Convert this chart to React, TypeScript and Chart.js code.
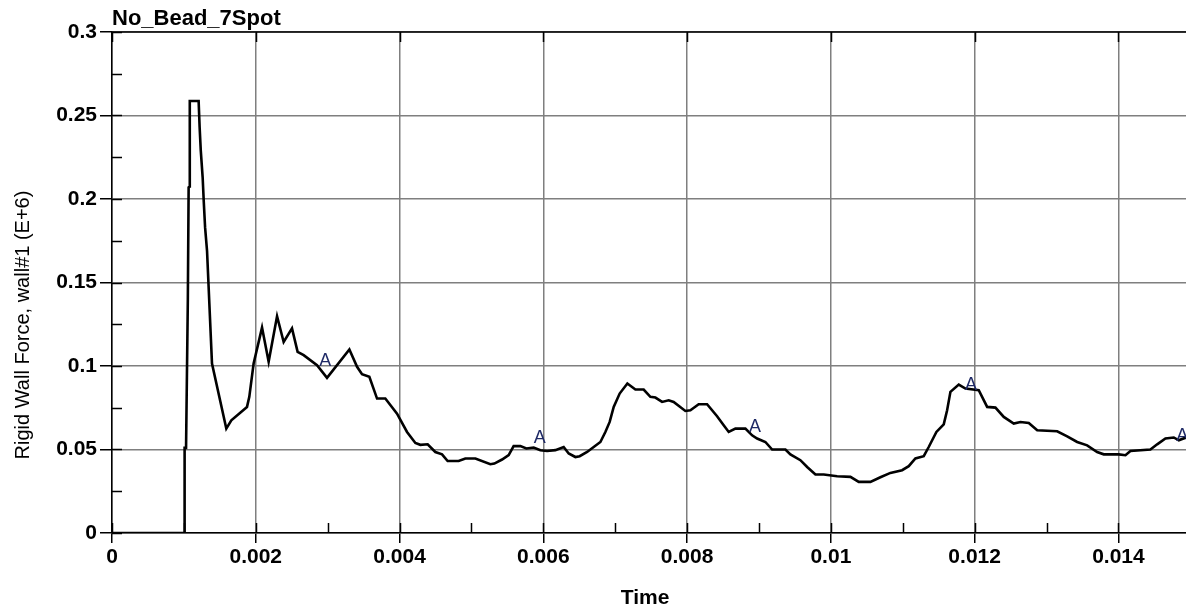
import { useEffect, useRef } from 'react'
import { Chart, registerables } from 'chart.js'

Chart.register(...registerables)

const chartTitle = 'No_Bead_7Spot'
const xAxisTitle = 'Time'
const yAxisTitle = 'Rigid Wall Force, wall#1 (E+6)'

const xTicks = [0, 0.002, 0.004, 0.006, 0.008, 0.01, 0.012, 0.014]
const xMinorTicks = [0.001, 0.003, 0.005, 0.007, 0.009, 0.011, 0.013]
const yTicks = [0, 0.05, 0.1, 0.15, 0.2, 0.25, 0.3]
const yMinorTicks = [0.025, 0.075, 0.125, 0.175, 0.225, 0.275]

// time (s) and force (E+6)
const timeValues = [
    0, 0.001006, 0.00101, 0.00103, 0.001055, 0.001066, 0.00108, 0.001082, 0.001205, 0.001219,
    0.001235, 0.001261, 0.001277, 0.001295, 0.001322, 0.001391, 0.00159, 0.00166, 0.001878, 0.00191,
    0.00197, 0.002087, 0.002179, 0.002296, 0.002388, 0.002504, 0.002582, 0.002666, 0.002852, 0.002991,
    0.003302, 0.003409, 0.003478, 0.00358, 0.003687, 0.003802, 0.003965, 0.004104, 0.00422, 0.004289,
    0.004391, 0.004498, 0.004591, 0.004669, 0.004822, 0.004915, 0.005055, 0.005263, 0.005319, 0.005426,
    0.005518, 0.005587, 0.005681, 0.005764, 0.005866, 0.005959, 0.006052, 0.006168, 0.006283, 0.006353,
    0.006446, 0.006506, 0.006609, 0.006701, 0.006794, 0.006863, 0.006923, 0.006979, 0.007062, 0.007169,
    0.007281, 0.007396, 0.007489, 0.007559, 0.007652, 0.007744, 0.007813, 0.007976, 0.008046, 0.008161,
    0.008278, 0.008417, 0.008509, 0.008579, 0.008672, 0.008811, 0.008904, 0.008974, 0.009089, 0.009183,
    0.009368, 0.009437, 0.009576, 0.00967, 0.009785, 0.009901, 0.010087, 0.010272, 0.010388, 0.01055,
    0.010689, 0.010828, 0.010991, 0.011083, 0.011176, 0.011292, 0.011361, 0.011468, 0.01157, 0.011617,
    0.011663, 0.011779, 0.011872, 0.012057, 0.012174, 0.012289, 0.012405, 0.012544, 0.012637, 0.012753,
    0.01287, 0.013148, 0.013287, 0.013426, 0.013565, 0.013704, 0.013796, 0.014005, 0.014098, 0.014167,
    0.014445, 0.014539, 0.014654, 0.01477, 0.01484, 0.014947,
]
const forceValues = [
    0, 0, 0.051, 0.051, 0.14, 0.207, 0.2075, 0.2587, 0.2587, 0.243,
    0.229, 0.213, 0.198, 0.183, 0.169, 0.1015, 0.0625, 0.0675, 0.0755, 0.0815,
    0.1015, 0.123, 0.1025, 0.1298, 0.1144, 0.1225, 0.1085, 0.1065, 0.1005, 0.0929,
    0.1099, 0.0995, 0.0951, 0.0935, 0.0805, 0.0805, 0.0715, 0.0605, 0.0539, 0.0528,
    0.0531, 0.0485, 0.0471, 0.0431, 0.0431, 0.0446, 0.0446, 0.0412, 0.0416, 0.044,
    0.0466, 0.052, 0.052, 0.0506, 0.0512, 0.0496, 0.0491, 0.0496, 0.0515, 0.0476,
    0.0455, 0.046, 0.0485, 0.0515, 0.0545, 0.0605, 0.0665, 0.0755, 0.0835, 0.0895,
    0.0859, 0.0859, 0.0815, 0.0811, 0.0785, 0.0795, 0.0785, 0.0731, 0.0735, 0.0771,
    0.0771, 0.0699, 0.0645, 0.0605, 0.0625, 0.0625, 0.0585, 0.0566, 0.0545, 0.05,
    0.05, 0.0471, 0.0436, 0.0395, 0.035, 0.035, 0.034, 0.0336, 0.0306, 0.0306,
    0.0334, 0.036, 0.0376, 0.04, 0.0446, 0.046, 0.0515, 0.0605, 0.0651, 0.0735,
    0.0845, 0.0889, 0.0865, 0.0855, 0.0755, 0.0751, 0.0695, 0.0655, 0.0665, 0.0659,
    0.0615, 0.0609, 0.0579, 0.0545, 0.0525, 0.0485, 0.0471, 0.0471, 0.0466, 0.0491,
    0.05, 0.0531, 0.0566, 0.0572, 0.0555, 0.0573,
]

// "A" curve labels
const markerTimes = [0.002968, 0.005952, 0.008946, 0.011949, 0.014887]
const markerForces = [0.1001, 0.0536, 0.0603, 0.0859, 0.0551]

const fontFamily = '"Liberation Sans", Arial, sans-serif'
const fmt = (v: number | string) => String(Number(Number(v).toFixed(4)))

const decorations = {
    id: 'decorations',
    afterDraw(chart: any) {
        const { ctx, chartArea } = chart
        const xs = chart.scales.x
        const ys = chart.scales.y
        ctx.save()

        ctx.strokeStyle = '#000'
        ctx.lineWidth = 1.5
        ctx.beginPath()
        ctx.moveTo(chartArea.left, chartArea.top)
        ctx.lineTo(chartArea.right, chartArea.top)
        ;[...xTicks, ...xMinorTicks].forEach(v => {
            const px = Math.round(xs.getPixelForValue(v)) + 0.5
            ctx.moveTo(px, chartArea.bottom)
            ctx.lineTo(px, chartArea.bottom - 10)
        })
        xTicks.forEach(v => {
            const px = Math.round(xs.getPixelForValue(v)) + 0.5
            ctx.moveTo(px, chartArea.top)
            ctx.lineTo(px, chartArea.top + 10)
        })
        ;[...yTicks, ...yMinorTicks].forEach(v => {
            const py = Math.round(ys.getPixelForValue(v)) + 0.5
            ctx.moveTo(chartArea.left, py)
            ctx.lineTo(chartArea.left + 10, py)
        })
        ctx.stroke()

        ctx.fillStyle = '#1f2a66'
        ctx.font = `18px ${fontFamily}`
        ctx.textAlign = 'center'
        ctx.textBaseline = 'alphabetic'
        markerTimes.forEach((t, i) => {
            ctx.fillText('A', xs.getPixelForValue(t), ys.getPixelForValue(markerForces[i]))
        })

        ctx.fillStyle = '#000'
        ctx.textAlign = 'left'
        ctx.font = `bold 22px ${fontFamily}`
        ctx.fillText(chartTitle, chartArea.left, 25)

        ctx.textAlign = 'center'
        ctx.font = `bold 21px ${fontFamily}`
        ctx.fillText(xAxisTitle, 645, 604)

        ctx.font = `20px ${fontFamily}`
        ctx.translate(29, 325)
        ctx.rotate(-Math.PI / 2)
        ctx.fillText(yAxisTitle, 0, 0)

        ctx.restore()
    },
}

const App = () => {
    const canvasRef = useRef<HTMLCanvasElement>(null)

    useEffect(() => {
        if (!canvasRef.current) return
        const tickFont = { family: fontFamily, size: 21, weight: 'bold' as const }
        const chart = new Chart(canvasRef.current, {
            type: 'line',
            data: {
                datasets: [{
                    label: 'wall#1',
                    data: timeValues.map((t, i) => ({ x: t, y: forceValues[i] })),
                    borderColor: '#000',
                    borderWidth: 2.6,
                    pointRadius: 0,
                    tension: 0,
                    fill: false,
                }],
            },
            options: {
                animation: false,
                responsive: true,
                maintainAspectRatio: false,
                layout: { padding: { top: 32, left: 0, right: 0, bottom: 0 } },
                plugins: {
                    legend: { display: false },
                    tooltip: { enabled: false },
                },
                scales: {
                    x: {
                        type: 'linear',
                        min: 0,
                        max: 0.01494,
                        afterBuildTicks: (s: any) => { s.ticks = xTicks.map(v => ({ value: v })) },
                        afterFit: (s: any) => { s.height = 74 },
                        ticks: { callback: fmt, color: '#000', font: tickFont, padding: 2, maxRotation: 0, autoSkip: false },
                        grid: { color: '#7f7f7f', lineWidth: 1.5, tickLength: 10, tickColor: '#000', tickWidth: 1.5 },
                        border: { color: '#000', width: 1.5 },
                    },
                    y: {
                        type: 'linear',
                        min: 0,
                        max: 0.3,
                        afterBuildTicks: (s: any) => { s.ticks = yTicks.map(v => ({ value: v })) },
                        afterFit: (s: any) => { s.width = 112 },
                        ticks: { callback: fmt, color: '#000', font: tickFont, padding: 3 },
                        grid: { color: '#7f7f7f', lineWidth: 1.5, tickLength: 12, tickColor: '#000', tickWidth: 1.5 },
                        border: { color: '#000', width: 1.5 },
                    },
                },
            },
            plugins: [decorations],
        })
        return () => chart.destroy()
    }, [])

    return (
        <div style={{ position: 'fixed', left: 0, top: 0, width: 1186, height: 607, background: '#fff' }}>
            <canvas ref={canvasRef}></canvas>
        </div>
    )
}

export default App
